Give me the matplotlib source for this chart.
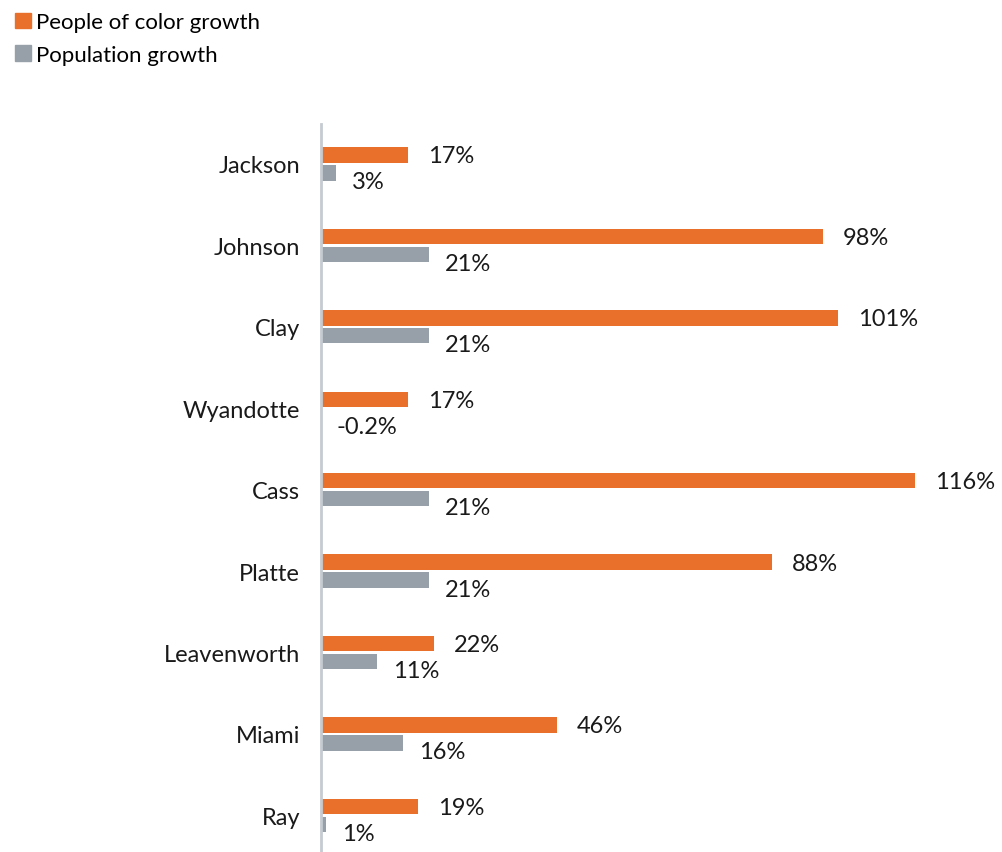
import numpy as np
import matplotlib.pyplot as plt
from matplotlib.patches import Patch

# data
counties = ['Jackson', 'Johnson', 'Clay', 'Wyandotte', 'Cass', 'Platte',
            'Leavenworth', 'Miami', 'Ray']
poc_growth = [17, 98, 101, 17, 116, 88, 22, 46, 19]
pop_growth = [3, 21, 21, -0.2, 21, 21, 11, 16, 1]
poc_labels = ['17%', '98%', '101%', '17%', '116%', '88%', '22%', '46%', '19%']
pop_labels = ['3%', '21%', '21%', '-0.2%', '21%', '21%', '11%', '16%', '1%']

orange = '#E8702A'
gray = '#97A0A8'

plt.rcParams['font.family'] = ['Lato', 'DejaVu Sans']

fig = plt.figure(figsize=(10.02, 8.53), dpi=100)
W, H = 1002, 853
ax = fig.add_axes([321 / W, 0, 1 - 321 / W, (853 - 125) / H])

y = np.arange(len(counties))
h = 0.19
ax.barh(y - 0.11, poc_growth, height=h, color=orange)
ax.barh(y + 0.11, pop_growth, height=h, color=gray)

for i in range(len(counties)):
    ax.annotate(poc_labels[i], (max(poc_growth[i], 0), y[i] - 0.11),
                xytext=(20, -1), textcoords='offset pixels',
                va='center', ha='left', fontsize=17, color='#1a1a1a')
    ax.annotate(pop_labels[i], (max(pop_growth[i], 0), y[i] + 0.11),
                xytext=(16, -9), textcoords='offset pixels',
                va='center', ha='left', fontsize=17, color='#1a1a1a')

ax.set_xlim(0, 133)
ax.set_ylim(8.45, -0.49)
ax.set_yticks(y)
ax.set_yticklabels(counties, fontsize=17, color='#1a1a1a')
ax.tick_params(axis='y', length=0, pad=15)
ax.set_xticks([])
for s in ['top', 'right', 'bottom']:
    ax.spines[s].set_visible(False)
ax.spines['left'].set_color('#C5CBD1')
ax.spines['left'].set_linewidth(2)

handles = [Patch(color=orange, label='People of color growth'),
           Patch(color=gray, label='Population growth')]
fig.legend(handles=handles, loc='upper left', bbox_to_anchor=(0.002, 1.0),
           frameon=False, fontsize=16, handlelength=0.7, handleheight=0.7,
           handletextpad=0.25, labelspacing=0.55, borderaxespad=0.2)

fig.savefig('out.png', dpi=100)
